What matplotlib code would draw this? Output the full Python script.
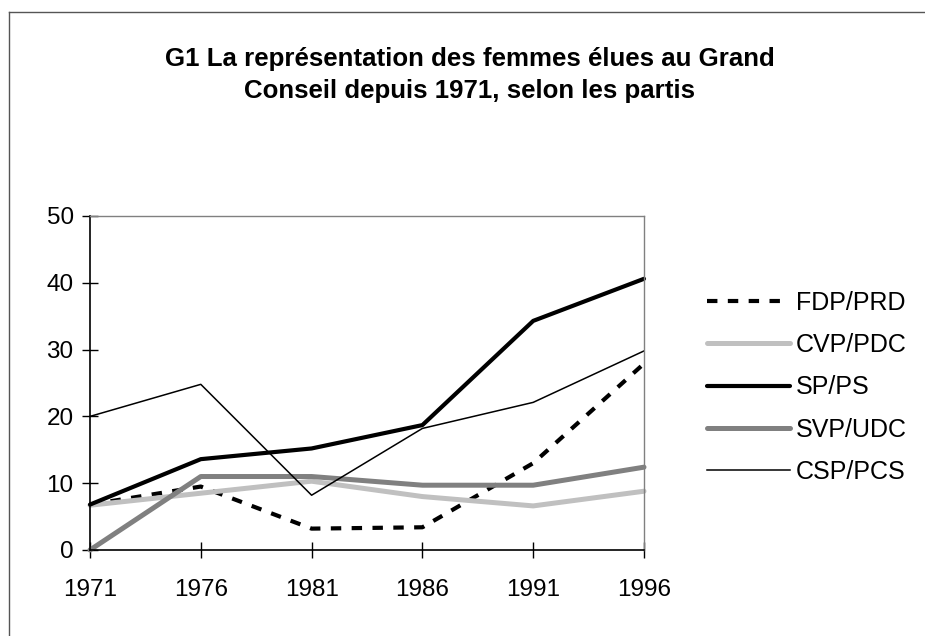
import matplotlib.pyplot as plt
from matplotlib.lines import Line2D

plt.rcParams['font.family'] = ['Liberation Sans', 'DejaVu Sans']

years = ["1971", "1976", "1981", "1986", "1991", "1996"]
fdp = [6.8, 9.5, 3.2, 3.4, 13.0, 27.9]
cvp = [6.7, 8.5, 10.3, 8.0, 6.6, 8.8]
sp = [6.8, 13.6, 15.2, 18.7, 34.3, 40.6]
svp = [0.0, 11.0, 11.0, 9.7, 9.7, 12.4]
csp = [20.0, 24.8, 8.2, 18.2, 22.1, 29.8]

labels = ["FDP/PRD", "CVP/PDC", "SP/PS", "SVP/UDC", "CSP/PCS"]

fig = plt.figure(figsize=(9.25, 6.36), dpi=100)
fig.patch.set_linewidth(0)
ax = fig.add_axes([90/925, 86/636, 554/925, 334/636])

x = range(len(years))
ax.plot(x, fdp, color='black', lw=3, ls=(0, (2.5, 2.5)), dash_capstyle='butt', label=labels[0])
ax.plot(x, cvp, color='#c0c0c0', lw=3.6, solid_capstyle='round', label=labels[1])
ax.plot(x, sp, color='black', lw=3, solid_capstyle='round', label=labels[2])
ax.plot(x, svp, color='#808080', lw=3.6, solid_capstyle='round', label=labels[3])
ax.plot(x, csp, color='black', lw=1.1, label=labels[4])

ax.set_xlim(0, len(years) - 1)
ax.set_ylim(0, 50)
ax.set_xticks(list(x))
ax.set_xticklabels(years)
ax.set_yticks([0, 10, 20, 30, 40, 50])

ax.tick_params(axis='both', direction='inout', length=11.5, width=1, labelsize=17.5)
ax.tick_params(axis='x', pad=15)
ax.tick_params(axis='y', pad=6)

for s in ['left', 'bottom']:
    ax.spines[s].set_color('black')
    ax.spines[s].set_linewidth(1.2)
for s in ['top', 'right']:
    ax.spines[s].set_color('#808080')
    ax.spines[s].set_linewidth(1)
for l in ax.lines:
    l.set_clip_on(False)

fig.text(0.508, 1 - 75/636, "G1 La représentation des femmes élues au Grand\nConseil depuis 1971, selon les partis",
         ha='center', va='center', fontsize=18.6, fontweight='bold', linespacing=1.42)

fig.legend(loc='upper left', bbox_to_anchor=(707/925, 1 - 291/636), frameon=False,
           fontsize=18, handlelength=3.3, handletextpad=0.25, labelspacing=0.73,
           borderpad=0, borderaxespad=0)

# chart area border, only its top and left edges fall inside the picture
fig.add_artist(Line2D([8.7/925, 8.7/925], [0, 1 - 11.7/636], transform=fig.transFigure,
                      color='#555555', lw=1))
fig.add_artist(Line2D([8.7/925, 1.1], [1 - 11.7/636, 1 - 11.7/636], transform=fig.transFigure,
                      color='#555555', lw=1))

fig.savefig("out.png", dpi=100)
